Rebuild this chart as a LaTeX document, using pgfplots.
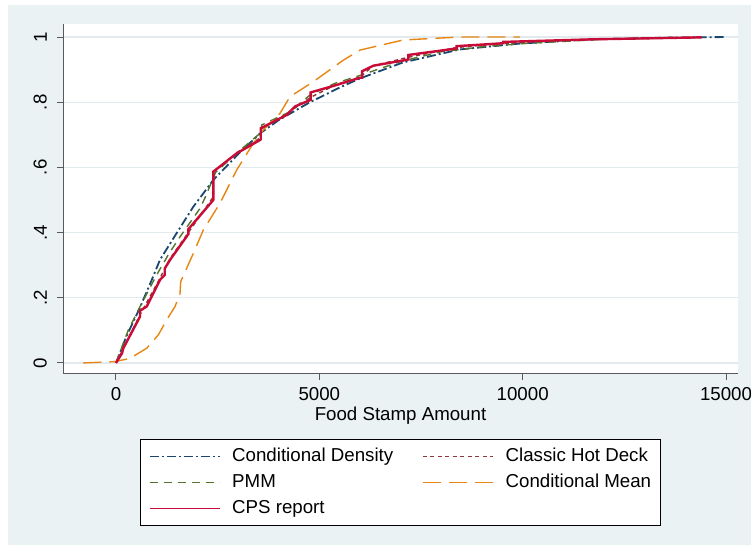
\documentclass[border=0pt]{standalone}
\usepackage{fontspec}
\setmainfont{Liberation Sans}
\usepackage{pgfplots}
\pgfplotsset{compat=1.18}

% Stata s2color look
\definecolor{stbg}{RGB}{234,242,243}
\definecolor{stgrid}{RGB}{226,234,237}
\definecolor{navy}{RGB}{26,71,111}
\definecolor{maroon}{RGB}{144,53,59}
\definecolor{fgreen}{RGB}{85,117,47}
\definecolor{dkorange}{RGB}{232,134,20}
\definecolor{cranberry}{RGB}{200,12,55}

\begin{document}
\begin{tikzpicture}
\useasboundingbox (0,0) rectangle (751bp,546bp);
\fill[white] (0,0) rectangle (751bp,546bp);
\fill[stbg] (8bp,1bp) rectangle (751bp,541bp);
\begin{axis}[
  at={(63bp,172bp)}, anchor=south west,
  scale only axis, width=675bp, height=350bp,
  xmin=-1303, xmax=15294, ymin=-0.034, ymax=1.04,
  scaled x ticks=false,
  axis x line*=bottom, axis y line*=left,
  axis line style={black!65, line width=1bp, -},
  axis background/.style={fill=white},
  font=\fontsize{18.7bp}{22bp}\selectfont,
  tick align=outside, major tick length=6bp,
  tick style={black!65, line width=1bp},
  xtick={0,5000,10000,15000},
  xticklabels={0,5000,10000,15000},
  ytick={0,0.2,0.4,0.6,0.8,1},
  yticklabels={0,.2,.4,.6,.8,1},
  xticklabel style={anchor=base, inner sep=0pt},
  xticklabel shift=20bp,
  yticklabel style={rotate=90, anchor=south, inner sep=0pt},
  yticklabel shift=10bp,
  ymajorgrids, grid style={stgrid, line width=1.3bp},
  xlabel={Food Stamp Amount},
  xlabel style={at={(axis description cs:0.5,0)}, anchor=base, yshift=-46.5bp},
  legend columns=2,
  legend cell align=left,
  legend image code/.code={\draw[#1, line width=1.3bp] (0bp,0bp) -- (70bp,0bp);},
  legend style={
    at={(axis description cs:0.4993,-0.1857)}, anchor=north,
    draw=black, fill=white, line width=0.8bp,
    inner xsep=9bp, inner ysep=8bp,
    row sep=8bp,
    nodes={inner sep=0pt, text height=14bp, text depth=4bp},
    /tikz/every odd column/.append style={column sep=12bp},
    /tikz/every even column/.append style={column sep=29bp},
  },
]
% Conditional Density
\addplot[navy, line width=1.8bp, dash pattern=on 9bp off 3bp on 2bp off 3bp] coordinates {
(0,0) (250,0.08) (590,0.17) (880,0.255) (1080,0.316) (1500,0.40) (1900,0.479)
(2390,0.561) (3000,0.64) (3540,0.704) (4000,0.745) (4770,0.80) (5500,0.845)
(6000,0.873) (7057,0.922) (8458,0.962) (9934,0.98) (11729,0.993) (13500,0.998) (15000,1.0)
};
\addlegendentry{Conditional Density}
% Classic Hot Deck
\addplot[maroon, line width=1.4bp, dash pattern=on 4bp off 3.5bp] coordinates {
(0,0) (200,0.05) (600,0.15) (1082,0.26) (1328,0.32) (1778,0.40) (2147,0.465)
(2393,0.51) (2400,0.585) (2967,0.645) (3541,0.69) (3600,0.72) (4197,0.765)
(4786,0.815) (5427,0.855) (6000,0.877) (6327,0.912) (7188,0.938) (7966,0.957)
(8376,0.968) (9524,0.98) (11729,0.993) (14400,0.999)
};
\addlegendentry{Classic Hot Deck}
% PMM
\addplot[fgreen, line width=1.4bp, dash pattern=on 8bp off 6bp] coordinates {
(0,0) (300,0.10) (600,0.175) (1000,0.27) (1300,0.335) (1574,0.387) (2065,0.474)
(2200,0.51) (2450,0.585) (3008,0.648) (3500,0.70) (3582,0.705) (3582,0.73)
(4279,0.771) (4770,0.822) (5386,0.858) (6000,0.882) (7000,0.925) (8000,0.955)
(9000,0.97) (10000,0.98) (12000,0.993) (14400,0.999)
};
\addlegendentry{PMM}
% Conditional Mean
\addplot[dkorange, line width=1.4bp, dash pattern=on 18bp off 8bp] coordinates {
(-803,0) (-25,0.004) (344,0.014) (754,0.045) (1041,0.086) (1246,0.132) (1451,0.173)
(1574,0.213) (1590,0.249) (1901,0.336) (2147,0.408) (2557,0.49) (2967,0.592)
(3377,0.674) (3623,0.715) (4033,0.766) (4279,0.817) (4852,0.863) (5590,0.929)
(6000,0.96) (7065,0.991) (8458,1.0) (9934,1.0)
};
\addlegendentry{Conditional Mean}
% CPS report
\addplot[cranberry, line width=2.4bp] coordinates {
(0,0) (150,0.03) (180,0.045) (590,0.142) (590,0.16) (754,0.173) (1082,0.255)
(1200,0.27) (1200,0.29) (1328,0.316) (1778,0.395) (1778,0.41) (2147,0.464)
(2393,0.50) (2393,0.587) (2967,0.643) (3541,0.684) (3560,0.686) (3560,0.72)
(4197,0.761) (4402,0.787) (4786,0.807) (4786,0.83) (5427,0.853) (6000,0.875)
(6050,0.875) (6050,0.895) (6327,0.912) (7188,0.931) (7188,0.945) (7966,0.958)
(8376,0.965) (8376,0.972) (9524,0.981) (9524,0.985) (11729,0.993) (14400,0.999)
};
\addlegendentry{CPS report}
\end{axis}
\end{tikzpicture}
\end{document}
